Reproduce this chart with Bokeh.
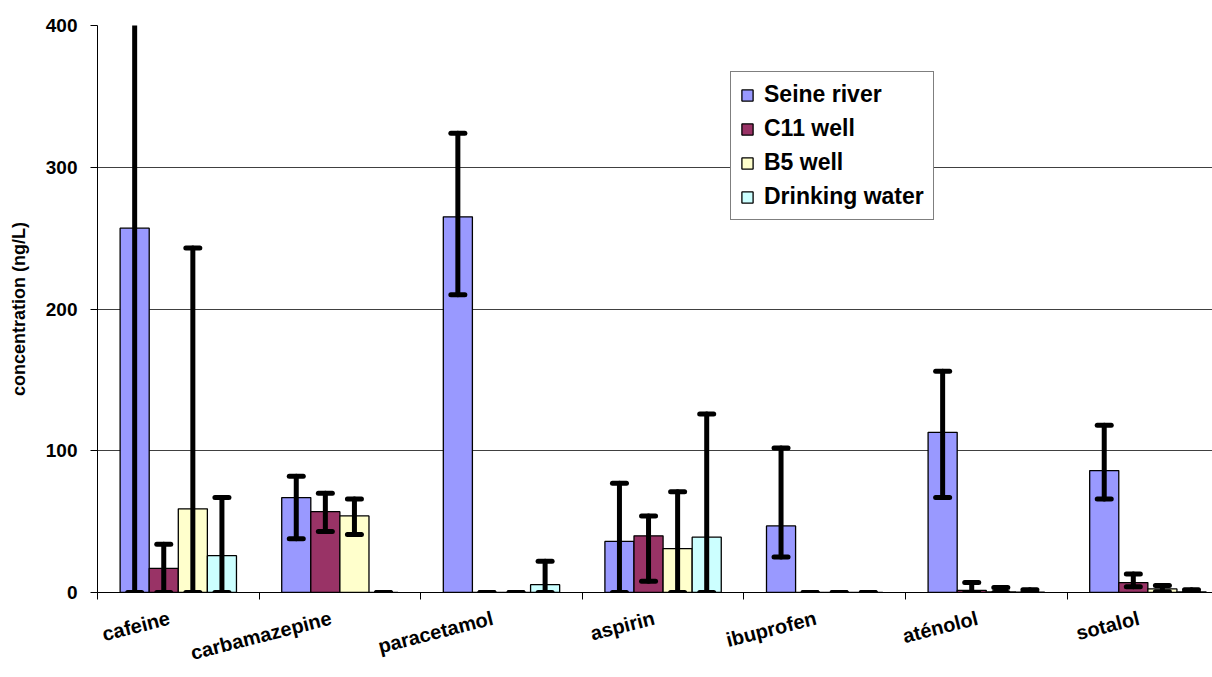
import numpy as np
from bokeh.plotting import figure
from bokeh.models import (ColumnDataSource, Range1d, FixedTicker, Whisker, TeeHead,
                          Legend)
from bokeh.embed import file_html
from bokeh.resources import INLINE

# ---- data ----
categories = ["cafeine", "carbamazepine", "paracetamol", "aspirin",
              "ibuprofen", "aténolol", "sotalol"]
series_names = ["Seine river", "C11 well", "B5 well", "Drinking water"]

seine = [257, 67, 265, 36, 47, 113, 86]
seine_lo = [0, 38, 210, 0, 25, 67, 66]
seine_hi = [514, 82, 324, 77, 102, 156, 118]

c11 = [17, 57, 0, 40, 0, 1.5, 7]
c11_lo = [0, 43, 0, 8, 0, 0, 4]
c11_hi = [34, 70, 0, 54, 0, 7, 13]

b5 = [59, 54, 0, 31, 0, 0.5, 2.5]
b5_lo = [0, 41, 0, 0, 0, 0, 0.5]
b5_hi = [243, 66, 0, 71, 0, 3.5, 5]

drinking = [26, 0, 5.5, 39, 0, 0.3, 0.5]
drinking_lo = [0, 0, 0, 0, 0, 0, 0]
drinking_hi = [67, 0, 22, 126, 0, 2, 2]

y_ticks = [0, 100, 200, 300, 400]

colors = ["#9999FF", "#993366", "#FFFFCC", "#CCFFFF"]
values = [seine, c11, b5, drinking]
lows = [seine_lo, c11_lo, b5_lo, drinking_lo]
highs = [seine_hi, c11_hi, b5_hi, drinking_hi]

FONT = "Liberation Sans"
bar_w = 0.18
label_shift = 0.445  # where the slanted category labels end, inside each slot

p = figure(width=1212, height=677, output_backend="svg", toolbar_location=None,
           x_range=Range1d(0, 6.9), y_range=Range1d(0, 400),
           min_border_left=97, min_border_right=0, min_border_top=25,
           min_border_bottom=85)
p.outline_line_color = None
p.background_fill_color = "white"
p.border_fill_color = "white"

idx = np.arange(len(categories))
legend_items = []
for k in range(4):
    x = idx + 0.5 + (k - 1.5) * bar_w
    src = ColumnDataSource(dict(x=x, top=values[k],
                                lower=np.maximum(0, lows[k]),
                                upper=highs[k]))
    r = p.vbar(x="x", top="top", width=bar_w, source=src,
               fill_color=colors[k], line_color="black", line_width=1.3)
    legend_items.append((series_names[k], [r]))
    w = Whisker(base="x", lower="lower", upper="upper", source=src,
                dimension="height", line_color="black", line_width=5,
                line_cap="round", level="annotation",
                lower_head=TeeHead(size=14, line_width=5, line_color="black",
                                   line_cap="round"),
                upper_head=TeeHead(size=14, line_width=5, line_color="black",
                                   line_cap="round"))
    p.add_layout(w)

# axes
label_pos = [float(i + label_shift) for i in idx]
p.xaxis.ticker = FixedTicker(ticks=label_pos, minor_ticks=list(range(len(categories) + 1)))
p.xaxis.major_label_overrides = {pos: c for pos, c in zip(label_pos, categories)}
p.xaxis.major_tick_out = 0
p.xaxis.major_tick_in = 0
p.xaxis.minor_tick_out = 7
p.xaxis.minor_tick_in = 0
p.xaxis.minor_tick_line_color = "black"
p.xaxis.axis_line_color = "black"
p.xaxis.major_label_orientation = 0.25
p.xaxis.major_label_standoff = 18
p.xaxis.major_label_text_font = FONT
p.xaxis.major_label_text_font_style = "bold"
p.xaxis.major_label_text_font_size = "20px"
p.xaxis.major_label_text_color = "black"

p.yaxis.ticker = FixedTicker(ticks=y_ticks)
p.yaxis.major_tick_out = 7
p.yaxis.major_tick_in = 0
p.yaxis.minor_tick_line_color = None
p.yaxis.axis_line_color = "black"
p.yaxis.major_tick_line_color = "black"
p.yaxis.major_label_standoff = 13
p.yaxis.major_label_text_font = FONT
p.yaxis.major_label_text_font_style = "bold"
p.yaxis.major_label_text_font_size = "19px"
p.yaxis.major_label_text_color = "black"
p.yaxis.axis_label = "concentration (ng/L)"
p.yaxis.axis_label_text_font = FONT
p.yaxis.axis_label_text_font_style = "bold"
p.yaxis.axis_label_text_font_size = "18px"
p.yaxis.axis_label_text_color = "black"
p.yaxis.axis_label_standoff = 14

p.xgrid.grid_line_color = None
p.ygrid.ticker = FixedTicker(ticks=y_ticks)
p.ygrid.grid_line_color = "#404040"
p.ygrid.grid_line_width = 1.2

legend = Legend(items=legend_items, location=(633, 372),
                border_line_color="black", border_line_width=1,
                background_fill_color="white", background_fill_alpha=1,
                label_text_font=FONT, label_text_font_style="bold",
                label_text_font_size="23px", label_text_color="black",
                glyph_width=14, glyph_height=14, label_standoff=10,
                spacing=7, padding=9, margin=0, label_height=24)
p.add_layout(legend)

open("out.html", "w").write(file_html(p, INLINE))
